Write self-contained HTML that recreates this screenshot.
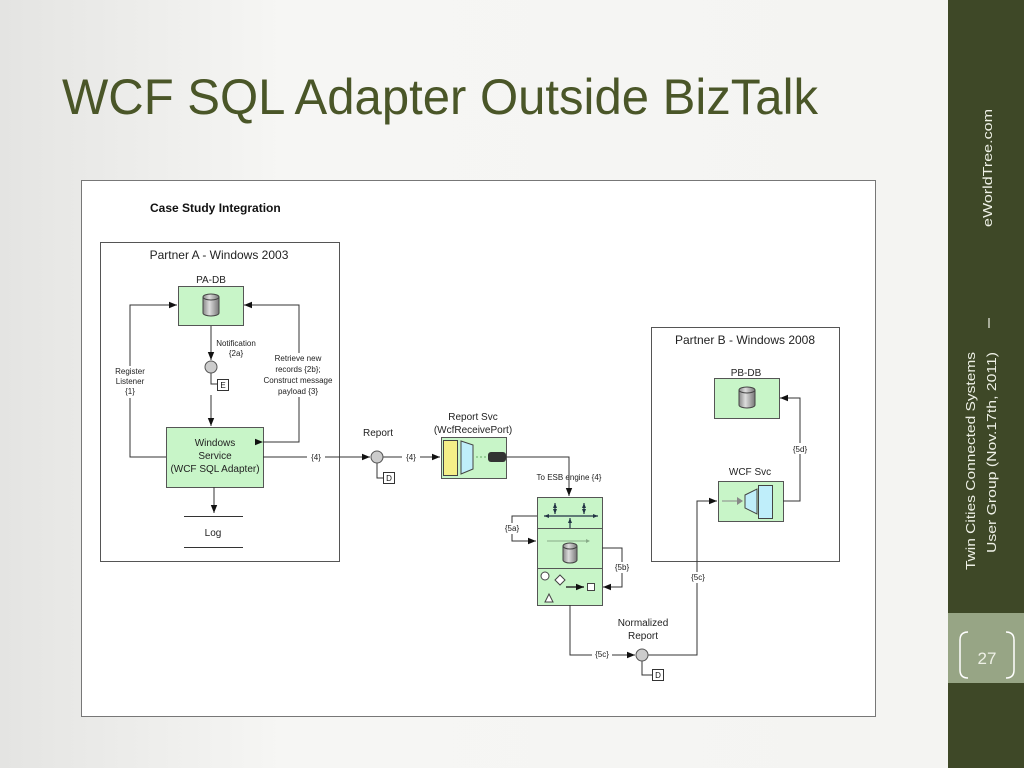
<!DOCTYPE html>
<html><head><meta charset="utf-8"><style>
html,body{margin:0;padding:0;width:1024px;height:768px;overflow:hidden;background:#f4f4f2}
svg{display:block}
text{font-family:"Liberation Sans",sans-serif}
</style></head><body>
<svg width="1024" height="768" viewBox="0 0 1024 768" xmlns="http://www.w3.org/2000/svg">
<defs>
<marker id="a" viewBox="0 0 10 10" refX="10" refY="5" markerWidth="8" markerHeight="8" orient="auto" markerUnits="userSpaceOnUse"><path d="M0,1 L10,5 L0,9z" fill="#111"/></marker>
<marker id="s" viewBox="0 0 10 10" refX="10" refY="5" markerWidth="5" markerHeight="5" orient="auto-start-reverse" markerUnits="userSpaceOnUse"><path d="M0,1 L10,5 L0,9z" fill="#234"/></marker>
<linearGradient id="cyl" x1="0" x2="1"><stop offset="0" stop-color="#888"/><stop offset=".4" stop-color="#ddd"/><stop offset="1" stop-color="#777"/></linearGradient>
<linearGradient id="bg" x1="0" x2="1"><stop offset="0" stop-color="#e4e4e2"/><stop offset=".3" stop-color="#f6f6f4"/><stop offset="1" stop-color="#f4f4f2"/></linearGradient>
</defs>
<rect width="948" height="768" fill="url(#bg)"/>
<rect x="948" y="0" width="76" height="768" fill="#3e4827"/>
<rect x="948" y="613" width="76" height="70" fill="#97a585"/>
<text x="62" y="114" font-size="50" fill="#4a5628" textLength="756" lengthAdjust="spacingAndGlyphs">WCF SQL Adapter Outside BizTalk</text>
<g fill="#eef0e6" font-size="13">
<text transform="translate(992,227) rotate(-90)" textLength="118" lengthAdjust="spacingAndGlyphs">eWorldTree.com</text>
<text transform="translate(975,570) rotate(-90)" textLength="218" lengthAdjust="spacingAndGlyphs">Twin Cities Connected Systems</text>
<text transform="translate(996,553) rotate(-90)" textLength="201" lengthAdjust="spacingAndGlyphs">User Group (Nov.17th, 2011)</text>
<line x1="989" y1="328" x2="989" y2="318" stroke="#eef0e6" stroke-width="1.2"/>
<text x="987" y="664" font-size="17" text-anchor="middle">27</text>
</g>
<path d="M968,632 q-8,0 -8,8 v30 q0,8 8,8" fill="none" stroke="#fff" stroke-width="1.5"/>
<path d="M1006,632 q8,0 8,8 v30 q0,8 -8,8" fill="none" stroke="#fff" stroke-width="1.5"/>

<rect x="81.5" y="180.5" width="794" height="536" fill="#fff" stroke="#777"/>
<text x="150" y="212" font-size="12" font-weight="bold" fill="#111">Case Study Integration</text>

<g fill="none" stroke="#555">
<rect x="100.5" y="242.5" width="239" height="319"/>
<rect x="651.5" y="327.5" width="188" height="234"/>
</g>
<g font-size="12" fill="#222" text-anchor="middle">
<text x="219" y="259">Partner A - Windows 2003</text>
<text x="745" y="344">Partner B - Windows 2008</text>
</g>

<g fill="#c8f5c8" stroke="#555">
<rect x="178.5" y="286.5" width="65" height="39"/>
<rect x="166.5" y="427.5" width="97" height="60"/>
<rect x="441.5" y="437.5" width="65" height="41"/>
<rect x="537.5" y="497.5" width="65" height="31"/>
<rect x="537.5" y="528.5" width="65" height="40"/>
<rect x="537.5" y="568.5" width="65" height="37"/>
<rect x="714.5" y="378.5" width="65" height="40"/>
<rect x="718.5" y="481.5" width="65" height="40"/>
</g>
<g stroke="#444" fill="url(#cyl)">
<path d="M203,297 v16 a8,3 0 0 0 16,0 v-16"/><ellipse cx="211" cy="297" rx="8" ry="3"/>
<path d="M563,546 v14 a7,3 0 0 0 14,0 v-14"/><ellipse cx="570" cy="546" rx="7" ry="3"/>
<path d="M739,390 v15 a8,3 0 0 0 16,0 v-15"/><ellipse cx="747" cy="390" rx="8" ry="3"/>
</g>
<rect x="443.5" y="440.5" width="14" height="35" fill="#f5ef88" stroke="#444"/>
<path d="M461,441 l12,4 v24 l-12,5z" fill="#bfeefa" stroke="#444"/>
<line x1="476" y1="457" x2="486" y2="457" stroke="#6a6" stroke-dasharray="2,2"/>
<rect x="488" y="452" width="18" height="10" rx="3" fill="#333"/>
<line x1="722" y1="501" x2="740" y2="501" stroke="#888"/><path d="M737,497 l6,4 -6,4z" fill="#888"/>
<path d="M745,495 l12,-6 v25 l-12,-6z" fill="#bfeefa" stroke="#444"/>
<rect x="758.5" y="485.5" width="14" height="33" fill="#bfeefa" stroke="#444"/>
<g stroke="#234" stroke-width="1.2" fill="none">
<line x1="544" y1="516" x2="598" y2="516" marker-start="url(#s)" marker-end="url(#s)"/>
<line x1="555" y1="503" x2="555" y2="514" marker-start="url(#s)" marker-end="url(#s)"/>
<line x1="584" y1="503" x2="584" y2="514" marker-start="url(#s)" marker-end="url(#s)"/>
<line x1="570" y1="518" x2="570" y2="528" marker-start="url(#s)"/>
</g>
<line x1="547" y1="541" x2="588" y2="541" stroke="#8a8"/><path d="M586,539 l4,2 -4,2z" fill="#8a8"/>
<circle cx="545" cy="576" r="4" fill="#fff" stroke="#444"/>
<path d="M555,580 l5,-5 5,5 -5,5z" fill="#fff" stroke="#444"/>
<path d="M545,602 l4,-8 4,8z" fill="#fff" stroke="#444"/>
<rect x="587.5" y="583.5" width="7" height="7" fill="#fff" stroke="#444"/>

<g fill="none" stroke="#333" stroke-width="1">
<polyline points="166,457 130,457 130,305 177,305" marker-end="url(#a)"/>
<polyline points="263,442 299,442 299,305 244,305" marker-start="url(#a)" marker-end="url(#a)"/>
<line x1="211" y1="326" x2="211" y2="360" marker-end="url(#a)"/>
<polyline points="211,373 211,384 217,384"/>
<line x1="211" y1="395" x2="211" y2="426" marker-end="url(#a)"/>
<line x1="214" y1="487" x2="214" y2="513" marker-end="url(#a)"/>
<line x1="184" y1="516.5" x2="243" y2="516.5"/><line x1="184" y1="547.5" x2="243" y2="547.5"/>
<line x1="263" y1="457" x2="370" y2="457" marker-end="url(#a)"/>
<polyline points="377,463 377,478 383,478"/>
<line x1="383" y1="457" x2="440" y2="457" marker-end="url(#a)"/>
<polyline points="506,457 569,457 569,496" marker-end="url(#a)"/>
<polyline points="537,516 512,516 512,541 536,541" marker-end="url(#a)"/>
<polyline points="602,548 622,548 622,587 603,587" marker-end="url(#a)"/>
<line x1="566" y1="587" x2="584" y2="587" stroke-width="1.5" marker-end="url(#a)"/>
<polyline points="570,605 570,655 635,655" marker-end="url(#a)"/>
<polyline points="642,661 642,675 652,675"/>
<polyline points="648,655 697,655 697,501 717,501" marker-end="url(#a)"/>
<polyline points="783,501 800,501 800,398 780,398" marker-end="url(#a)"/>
</g>
<g fill="#ccc" stroke="#555">
<circle cx="211" cy="367" r="6"/><circle cx="377" cy="457" r="6"/><circle cx="642" cy="655" r="6"/>
</g>
<g fill="#fff" stroke="#333">
<rect x="217.5" y="379.5" width="11" height="11"/><rect x="383.5" y="472.5" width="11" height="11"/><rect x="652.5" y="669.5" width="11" height="11"/>
</g>
<g font-size="8" fill="#111" text-anchor="middle">
<text x="223" y="388">E</text><text x="389" y="481">D</text><text x="658" y="678">D</text>
</g>
<g fill="#fff">
<rect x="307" y="451" width="18" height="11"/><rect x="402" y="451" width="18" height="11"/>
<rect x="502" y="523" width="20" height="11"/><rect x="612" y="562" width="20" height="11"/>
<rect x="592" y="649" width="20" height="11"/><rect x="688" y="572" width="20" height="11"/>
<rect x="790" y="443" width="20" height="11"/>
<rect x="262" y="353" width="74" height="44"/><rect x="112" y="366" width="36" height="32"/>
</g>
<g font-size="8" fill="#222" text-anchor="middle">
<text x="316" y="460">{4}</text><text x="411" y="460">{4}</text>
<text x="512" y="531">{5a}</text><text x="622" y="570">{5b}</text>
<text x="602" y="657">{5c}</text><text x="698" y="580">{5c}</text><text x="800" y="452">{5d}</text>
<text x="236" y="346">Notification</text><text x="236" y="356">{2a}</text>
<text x="298" y="361">Retrieve new</text><text x="298" y="372">records {2b};</text><text x="298" y="383">Construct message</text><text x="298" y="394">payload {3}</text>
<text x="130" y="374">Register</text><text x="130" y="384">Listener</text><text x="130" y="394">{1}</text>
<text x="569" y="480">To ESB engine {4}</text>
</g>
<g font-size="10" fill="#222" text-anchor="middle">
<text x="211" y="283">PA-DB</text><text x="746" y="376">PB-DB</text>
<text x="215" y="446">Windows</text><text x="215" y="459">Service</text><text x="215" y="472">(WCF SQL Adapter)</text>
<text x="213" y="536">Log</text>
<text x="378" y="436">Report</text>
<text x="473" y="420">Report Svc</text><text x="473" y="433">(WcfReceivePort)</text>
<text x="643" y="626">Normalized</text><text x="643" y="639">Report</text>
<text x="750" y="475">WCF Svc</text>
</g>
</svg>
</body></html>
